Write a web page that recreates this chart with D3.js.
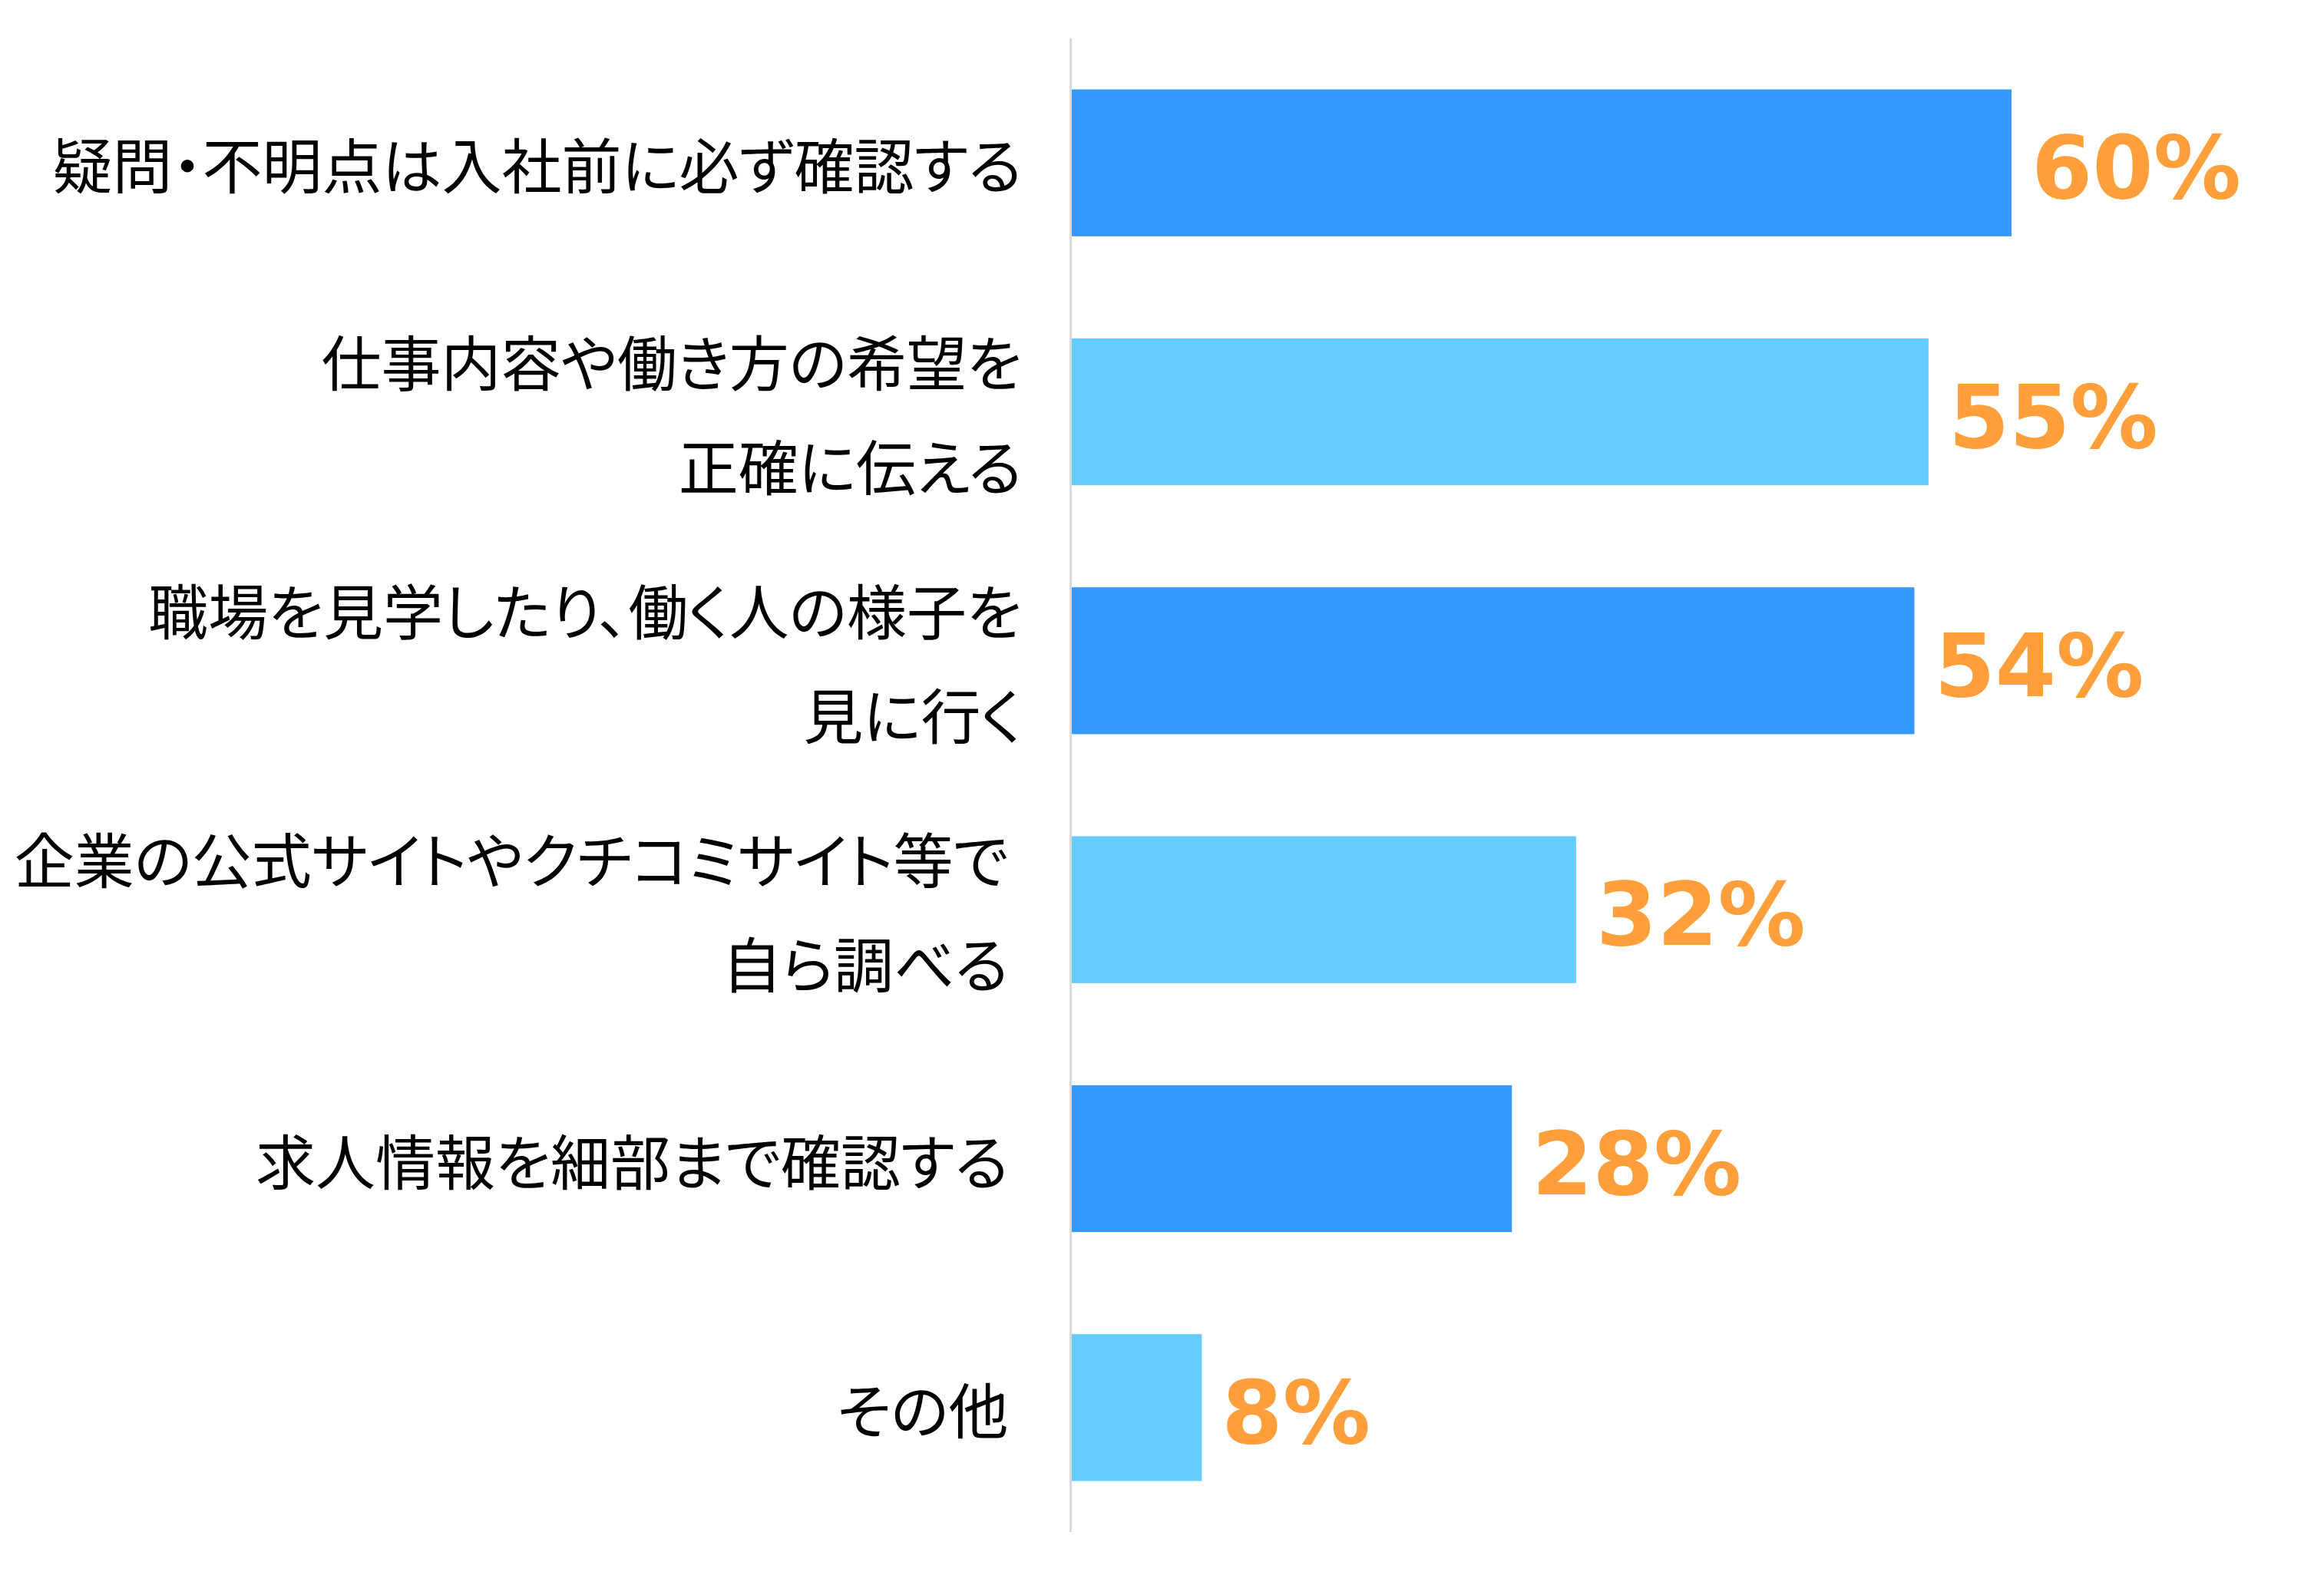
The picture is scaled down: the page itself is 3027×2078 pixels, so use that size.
<!DOCTYPE html>
<html><head><meta charset="utf-8">
<script src="https://cdn.jsdelivr.net/npm/d3@7"></script>
<style>
html,body{margin:0;padding:0;background:#fff;}
svg{display:block;}
.cat{font-feature-settings:"palt" 1;}
</style></head>
<body>
<svg id="chart" width="3027" height="2078"></svg>
<script>
const categories = [
  "疑問・不明点は入社前に必ず確認する",
  "仕事内容や働き方の希望を\n正確に伝える",
  "職場を見学したり、働く人の様子を\n見に行く",
  "企業の公式サイトやクチコミサイト等で \n自ら調べる ",
  "求人情報を細部まで確認する ",
  "その他 "
];
const values = [60.0, 54.7, 53.8, 32.2, 28.1, 8.3];
const valueLabels = ["60%", "55%", "54%", "32%", "28%", "8%"];
const barColors = ["#3399ff", "#66ccff"];

const svg = d3.select("#chart");
const axisX = 1394.5;
const y = d3.scaleBand().domain(categories).range([50, 1996]).paddingInner(0.41).paddingOuter(0.205);
const x = d3.scaleLinear().domain([0, 60]).range([1396, 2620]);

svg.append("line").attr("x1", axisX).attr("x2", axisX).attr("y1", 50).attr("y2", 1996)
  .attr("stroke", "#d9d9d9").attr("stroke-width", 3);

svg.selectAll("rect.bar").data(values).join("rect").attr("class", "bar")
  .attr("x", x(0))
  .attr("y", (d, i) => y(categories[i]))
  .attr("width", d => x(d) - x(0))
  .attr("height", y.bandwidth())
  .attr("fill", (d, i) => barColors[i % 2]);

svg.selectAll("text.val").data(values).join("text").attr("class", "val")
  .attr("x", d => x(d) + 26)
  .attr("y", (d, i) => y(categories[i]) + y.bandwidth() / 2 + 46)
  .attr("font-family", "'DejaVu Sans', Verdana, sans-serif")
  .attr("font-weight", "bold")
  .attr("font-size", 114)
  .attr("fill", "#ff9f3b")
  .text((d, i) => valueLabels[i]);

const lineGap = 136;
categories.forEach((c, i) => {
  const lines = c.split("\n");
  const cy = y(c) + y.bandwidth() / 2;
  const t = svg.append("text")
    .attr("class", "cat")
    .attr("text-anchor", "end")
    .attr("font-family", "'Noto Sans CJK JP', 'Noto Sans', sans-serif")
    .attr("font-size", 78)
    .attr("fill", "#000")
    .style("white-space", "pre");
  lines.forEach((ln, j) => {
    t.append("tspan")
      .attr("x", 1331)
      .attr("y", cy + (j - (lines.length - 1) / 2) * lineGap)
      .attr("dominant-baseline", "central")
      .text(ln);
  });
});
</script>
</body></html>
